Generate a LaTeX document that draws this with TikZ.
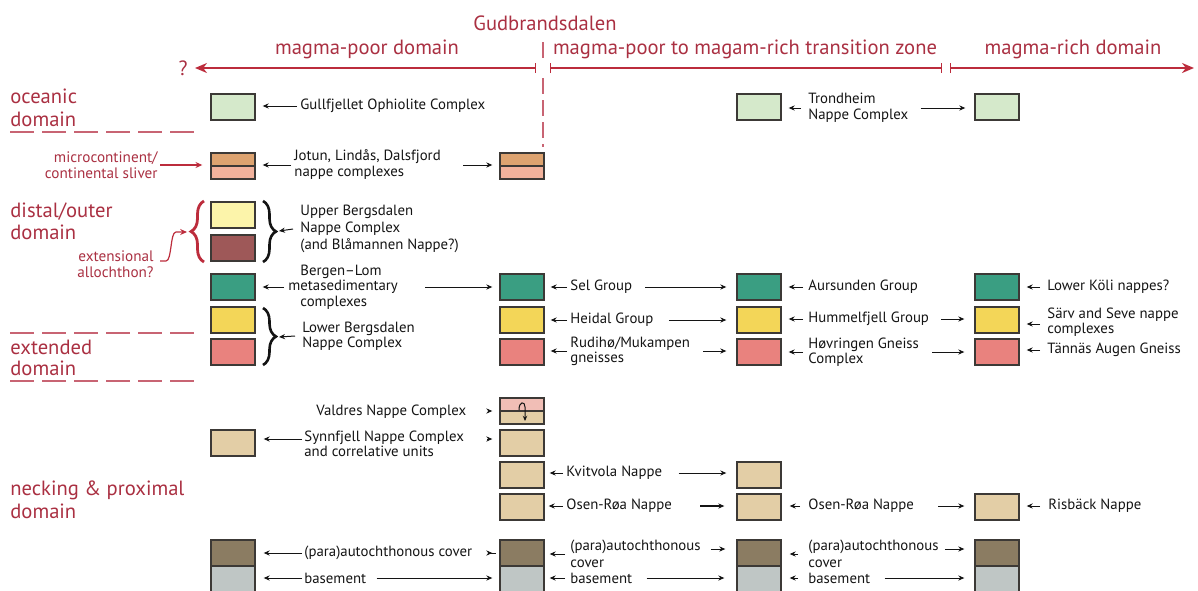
\documentclass[tikz,border=0pt]{standalone}
\usepackage{fontspec}
\setmainfont{PT Sans}
\usetikzlibrary{arrows.meta,decorations.pathreplacing}

\definecolor{boxline}{RGB}{60,57,54}
\definecolor{cOcean}{RGB}{213,233,203}
\definecolor{cJotA}{RGB}{221,163,112}
\definecolor{cJotB}{RGB}{242,178,156}
\definecolor{cPaleY}{RGB}{252,244,170}
\definecolor{cMaroon}{RGB}{158,88,88}
\definecolor{cTeal}{RGB}{58,158,130}
\definecolor{cYel}{RGB}{243,214,88}
\definecolor{cPink}{RGB}{233,130,126}
\definecolor{cTan}{RGB}{227,206,166}
\definecolor{cValA}{RGB}{241,190,182}
\definecolor{cBrown}{RGB}{139,124,98}
\definecolor{cGray}{RGB}{191,198,197}
\definecolor{txtRed}{RGB}{170,48,66}
\definecolor{lnRed}{RGB}{188,44,60}
\definecolor{dashRed}{RGB}{200,100,115}
\definecolor{ink}{RGB}{20,20,20}

\newcommand\lblsize{\fontsize{7.4}{8}\selectfont}
\newcommand\domsize{\fontsize{10.3}{11.5}\selectfont}
\newcommand\notesize{\fontsize{7.6}{8.2}\selectfont}

\begin{document}
\begin{tikzpicture}[x=0.5pt,y=-0.5pt,
  box/.style={draw=boxline,line width=0.7pt,minimum width=22pt,minimum height=13pt,inner sep=0pt},
  half/.style={draw=boxline,line width=0.7pt,minimum width=22pt,minimum height=6.5pt,inner sep=0pt},
  lbl/.style={anchor=west,inner sep=0pt,align=left,text=ink,font=\lblsize},
  dom/.style={anchor=base west,inner sep=0pt,text=txtRed,font=\domsize},
  note/.style={anchor=east,inner sep=0pt,align=right,text=txtRed,font=\notesize},
  head/.style={inner sep=0pt,text=txtRed,font=\domsize},
  arr/.style={draw=ink,line width=0.5pt,-{Stealth[length=3pt,width=2.6pt]}},
  redarr/.style={draw=lnRed,line width=0.6pt,-{Stealth[length=3.4pt,width=3pt]}},
  hdr/.style={draw=lnRed,line width=1.2pt},
  domline/.style={draw=dashRed,line width=0.6pt,dash pattern=on 12pt off 4pt},
  gline/.style={draw=dashRed,line width=0.7pt},
  bbrace/.style={draw=ink,line width=1.3pt,decorate,decoration={brace,amplitude=6.5pt}},
  rbrace/.style={draw=lnRed,line width=1.4pt,decorate,decoration={brace,amplitude=6.5pt}}
]
\useasboundingbox (0,0) rectangle (1198,590);

% ---------- header ----------
\node[head] (hGud) at (545,23) {Gudbrandsdalen};
\node[head] (hPoor) at (367,49) {magma-poor domain};
\node[head] (hTrans) at (745,49) {magma-poor to magam-rich transition zone};
\node[head] (hRich) at (1073,49) {magma-rich domain};
\node[head] (hQ) at (183,68) {?};
\coordinate (hL) at (195,68);
\coordinate (hT1) at (536,68);
\coordinate (hT2) at (550,68);
\coordinate (hT3) at (942,68);
\coordinate (hT4) at (950,68);
\coordinate (hR) at (1194,68);
\draw[hdr,{Bar[width=5pt,line width=0.6pt]}-{Stealth[length=6pt,width=5pt]}] (hT1) -- (hL);
\draw[hdr,{Bar[width=5pt,line width=0.6pt]}-{Bar[width=5pt,line width=0.6pt]}] (hT2) -- (hT3);
\draw[hdr,{Bar[width=5pt,line width=0.6pt]}-{Stealth[length=6pt,width=5pt]}] (hT4) -- (hR);
% Gudbrandsdalen boundary: short stroke above the axis, dashed below it
\coordinate (gTop) at (543,42);
\coordinate (gUp) at (543,58);
\coordinate (gLow) at (543,78);
\coordinate (gBot) at (543,147);
\draw[gline] (gTop) -- (gUp);
\draw[gline,dash pattern=on 8pt off 3pt] (gLow) -- (gBot);

% ---------- domain labels ----------
\node[dom] (dOce1) at (10,103) {oceanic};
\node[dom] (dOce2) at (10,126) {domain};
\draw[domline] (10,132) -- (196,132);
\node[dom] (dDis1) at (10,217) {distal/outer};
\node[dom] (dDis2) at (10,239) {domain};
\draw[domline] (10,333) -- (196,333);
\node[dom,anchor=west,align=left,font=\fontsize{10.3}{10.5}\selectfont] (dExt) at (10,358) {extended\\domain};
\draw[domline] (10,381) -- (196,381);
\node[dom] (dNeck1) at (10,495) {necking \& proximal};
\node[dom] (dNeck2) at (10,518) {domain};

\node[note] (nMicro) at (158,165) {microcontinent/\\continental sliver};
\node[note] (nExt) at (154,264) {extensional\\allochthon?};

% ---------- column 1 ----------
\node[box,fill=cOcean] (g1) at (233,107) {};
\node[half,fill=cJotA] (j1t) at (233,159.5) {};
\node[half,fill=cJotB] (j1b) at (233,172.5) {};
\node[box,fill=cPaleY] (ub1) at (233,215) {};
\node[box,fill=cMaroon] (ub2) at (233,248) {};
\node[box,fill=cTeal] (gr1) at (233,287) {};
\node[box,fill=cYel] (ye1) at (233,320) {};
\node[box,fill=cPink] (pk1) at (233,352) {};
\node[box,fill=cTan] (sy1) at (233,443) {};
\node[box,fill=cBrown] (cv1) at (233,553) {};
\node[box,fill=cGray] (bs1) at (233,579) {};

% ---------- column 2 ----------
\node[half,fill=cJotA] (j2t) at (522,159.5) {};
\node[half,fill=cJotB] (j2b) at (522,172.5) {};
\node[box,fill=cTeal] (gr2) at (522,287) {};
\node[box,fill=cYel] (ye2) at (522,320) {};
\node[box,fill=cPink] (pk2) at (522,352) {};
\node[half,fill=cValA] (va2t) at (522,404.5) {};
\node[half,fill=cTan] (va2b) at (522,417.5) {};
\node[box,fill=cTan] (sy2) at (522,443) {};
\node[box,fill=cTan] (kv2) at (522,475) {};
\node[box,fill=cTan] (os2) at (522,507) {};
\node[box,fill=cBrown] (cv2) at (522,553) {};
\node[box,fill=cGray] (bs2) at (522,579) {};

% ---------- column 3 ----------
\node[box,fill=cOcean] (g3) at (759,107) {};
\node[box,fill=cTeal] (gr3) at (759,287) {};
\node[box,fill=cYel] (ye3) at (759,320) {};
\node[box,fill=cPink] (pk3) at (759,352) {};
\node[box,fill=cTan] (kv3) at (759,475) {};
\node[box,fill=cTan] (os3) at (759,507) {};
\node[box,fill=cBrown] (cv3) at (759,553) {};
\node[box,fill=cGray] (bs3) at (759,579) {};

% ---------- column 4 ----------
\node[box,fill=cOcean] (g4) at (997,107) {};
\node[box,fill=cTeal] (gr4) at (997,287) {};
\node[box,fill=cYel] (ye4) at (997,320) {};
\node[box,fill=cPink] (pk4) at (997,352) {};
\node[box,fill=cTan] (os4) at (997,507) {};
\node[box,fill=cBrown] (cv4) at (997,553) {};
\node[box,fill=cGray] (bs4) at (997,579) {};

% fold symbol in the Valdres box
\draw[draw=ink,line width=0.5pt,-{Stealth[length=2.6pt,width=2.2pt]}]
  (519,410) .. controls (519,401) and (525,401) .. (525,407) -- (525,421);

% braces
\draw[rbrace] (204,262) -- (204,201);
\draw[bbrace] (263,201) -- (263,262);
\draw[bbrace] (263,308) -- (263,365);
\coordinate (ubTip) at (279,231);
\coordinate (lbTip) at (279,337);
\coordinate (rbTip) at (187,232);

% ---------- labels ----------
\node[lbl] (lGull) at (300,106) {Gullfjellet Ophiolite Complex};
\node[lbl] (lTrond) at (808,108) {Trondheim\\Nappe Complex};
\node[lbl] (lJot) at (294,165) {Jotun, Lindås, Dalsfjord\\nappe complexes};
\node[lbl,font=\fontsize{7.4}{8.5}\selectfont] (lUB) at (300,229) {Upper Bergsdalen\\Nappe Complex\\(and Blåmannen Nappe?)};
\node[lbl,font=\fontsize{7.4}{7.8}\selectfont] (lBL) at (300,287) {Bergen–Lom\\\hspace*{-6pt}metasedimentary\\complexes};
\node[lbl,font=\fontsize{7.4}{7.6}\selectfont] (lLB) at (302,336) {Lower Bergsdalen\\Nappe Complex};
\node[lbl] (lSel) at (570,287) {Sel Group};
\node[lbl] (lHei) at (570,320) {Heidal Group};
\node[lbl,font=\fontsize{7.4}{7.6}\selectfont] (lRud) at (570,351) {Rudihø/Mukampen\\gneisses};
\node[lbl] (lAur) at (808,287) {Aursunden Group};
\node[lbl] (lHum) at (808,319) {Hummelfjell Group};
\node[lbl,font=\fontsize{7.4}{7.6}\selectfont] (lHov) at (808,352) {Høvringen Gneiss\\Complex};
\node[lbl] (lKoli) at (1047,287) {Lower Köli nappes?};
\node[lbl,font=\fontsize{7.4}{7.6}\selectfont] (lSarv) at (1047,322) {Särv and Seve nappe\\complexes};
\node[lbl] (lTan) at (1047,350) {Tännäs Augen Gneiss};
\node[lbl] (lVal) at (316,412) {Valdres Nappe Complex};
\node[lbl,font=\fontsize{7.4}{6.8}\selectfont] (lSyn) at (304,444) {Synnfjell Nappe Complex\\and correlative units};
\node[lbl] (lKvi) at (566,473) {Kvitvola Nappe};
\node[lbl] (lOs2) at (566,506) {Osen-Røa Nappe};
\node[lbl] (lOs3) at (808,506) {Osen-Røa Nappe};
\node[lbl] (lRis) at (1048,506) {Risbäck Nappe};
\node[lbl] (lCv1) at (304,553) {(para)autochthonous cover};
\node[lbl,font=\fontsize{7.4}{8.5}\selectfont] (lCv2) at (570,554) {(para)autochthonous\\cover};
\node[lbl,font=\fontsize{7.4}{8.5}\selectfont] (lCv3) at (808,554) {(para)autochthonous\\cover};
\node[lbl] (lBs1) at (304,578) {basement};
\node[lbl] (lBs2) at (570,578) {basement};
\node[lbl] (lBs3) at (808,578) {basement};

% ---------- red pointers ----------
\draw[redarr,shorten >=4pt] ([xshift=1pt]nMicro.east) -- (nMicro.east -| j1t.south west);
\coordinate (extTail) at (160,261);
\draw[redarr] (extTail) -- ++(6,0) .. controls +(6,0) and +(-6,0) .. ++(10,-29) -- (rbTip);

% ---------- arrows: row 1 ----------
\draw[arr,shorten >=3.5pt] ([xshift=-1.5pt]lGull.west) -- (lGull.west -| g1.east);
\draw[arr,shorten >=3.5pt] ([xshift=-3.5pt]lTrond.west) -- (lTrond.west -| g3.east);
\draw[arr,shorten >=4.5pt] ([xshift=6pt]lTrond.east) -- (lTrond.east -| g4.west);

% row 2
\draw[arr,shorten >=3.5pt] ([xshift=-1.5pt]lJot.west) -- (lJot.west -| j1t.south east);
\draw[arr,shorten >=3.5pt] ([xshift=11pt]lJot.east) -- (lJot.east -| j2t.south west);

% brace pointers
\draw[arr] ([xshift=-3.5pt]lUB.west) -- (ubTip);
\draw[arr] ([xshift=-3.5pt]lLB.west) -- (lbTip);

% row 4
\draw[arr,shorten >=3.5pt] ([xshift=-8pt]lBL.west) -- (lBL.west -| gr1.east);
\draw[arr,shorten >=3.5pt] ([xshift=13.5pt]lBL.east) -- (lBL.east -| gr2.west);
\draw[arr,shorten >=3pt] ([xshift=-1.5pt]lSel.west) -- (lSel.west -| gr2.east);
\draw[arr,shorten >=5pt] ([xshift=6.5pt]lSel.east) -- (lSel.east -| gr3.west);
\draw[arr,shorten >=3.5pt] ([xshift=-2.5pt]lAur.west) -- (lAur.west -| gr3.east);
\draw[arr,shorten >=3.5pt] ([xshift=-3.5pt]lKoli.west) -- (lKoli.west -| gr4.east);

% row 5
\draw[arr,shorten >=3pt] ([xshift=-1.5pt]lHei.west) -- (lHei.west -| ye2.east);
\draw[arr,shorten >=5pt] ([xshift=7.5pt]lHei.east) -- (lHei.east -| ye3.west);
\draw[arr,shorten >=3.5pt] ([xshift=-2.5pt]lHum.west) -- (lHum.west -| ye3.east);
\draw[arr,shorten >=5pt] ([xshift=6pt]lHum.east) -- (lHum.east -| ye4.west);
\coordinate (sarvA) at ([yshift=-1pt]lSarv.west);
\draw[arr,shorten >=3.5pt] ([xshift=-3.5pt]sarvA) -- (sarvA -| ye4.east);

% row 6
\draw[arr,shorten >=3pt] ([xshift=-1.5pt]lRud.west) -- (lRud.west -| pk2.east);
\draw[arr,shorten >=5pt] ([xshift=6.5pt]lRud.east) -- (lRud.east -| pk3.west);
\draw[arr,shorten >=3.5pt] ([xshift=-2.5pt]lHov.west) -- (lHov.west -| pk3.east);
\draw[arr,shorten >=5pt] ([xshift=6.5pt]lHov.east) -- (lHov.east -| pk4.west);
\draw[arr,shorten >=3.5pt] ([xshift=-3.5pt]lTan.west) -- (lTan.west -| pk4.east);

% Valdres and Synnfjell
\coordinate (valA) at ([yshift=0.5pt]lVal.east);
\draw[arr,shorten >=3.5pt] ([xshift=11.5pt]valA) -- (valA -| va2t.south west);
\coordinate (synA) at ([yshift=2.5pt]lSyn.west);
\coordinate (synB) at ([yshift=2.5pt]lSyn.east);
\draw[arr,shorten >=4pt] ([xshift=-1pt]synA) -- (synA -| sy1.east);
\draw[arr,shorten >=3.5pt] ([xshift=11.5pt]synB) -- (synB -| sy2.west);

% Kvitvola and Osen-Røa
\draw[arr,shorten >=2.5pt] ([xshift=-1.5pt]lKvi.west) -- (lKvi.west -| kv2.east);
\draw[arr,shorten >=5pt] ([xshift=8pt]lKvi.east) -- (lKvi.east -| kv3.west);
\draw[arr,shorten >=2pt] ([xshift=-1.5pt]lOs2.west) -- (lOs2.west -| os2.east);
\draw[arr,line width=0.8pt,shorten >=6pt] ([xshift=14pt]lOs2.east) -- (lOs2.east -| os3.west);
\draw[arr,shorten >=4pt] ([xshift=-4pt]lOs3.west) -- (lOs3.west -| os3.east);
\draw[arr,shorten >=5pt] ([xshift=12pt]lOs3.east) -- (lOs3.east -| os4.west);
\draw[arr,shorten >=3.5pt] ([xshift=-4pt]lRis.west) -- (lRis.west -| os4.east);

% cover
\draw[arr,shorten >=4pt] ([xshift=-1pt]lCv1.west) -- (lCv1.west -| cv1.east);
\draw[arr,shorten >=3.5pt] ([xshift=11.5pt]lCv1.east) -- (lCv1.east -| cv2.west);
\draw[arr,shorten >=2.5pt] ([xshift=-2.5pt]lCv2.west) -- (lCv2.west -| cv2.east);
\coordinate (cv2A) at ([yshift=2.5pt]lCv2.east);
\draw[arr,shorten >=5.5pt] ([xshift=5pt]cv2A) -- (cv2A -| cv3.west);
\draw[arr,shorten >=4pt] ([xshift=-5pt]lCv3.west) -- (lCv3.west -| cv3.east);
\coordinate (cv3A) at ([yshift=2.5pt]lCv3.east);
\draw[arr,shorten >=5pt] ([xshift=3pt]cv3A) -- (cv3A -| cv4.west);

% basement
\draw[arr,shorten >=4pt] ([xshift=-1pt]lBs1.west) -- (lBs1.west -| bs1.east);
\draw[arr,shorten >=3.5pt] ([xshift=5pt]lBs1.east) -- (lBs1.east -| bs2.west);
\draw[arr,shorten >=2.5pt] ([xshift=-2.5pt]lBs2.west) -- (lBs2.west -| bs2.east);
\draw[arr,shorten >=6pt] ([xshift=7pt]lBs2.east) -- (lBs2.east -| bs3.west);
\draw[arr,shorten >=4pt] ([xshift=-5pt]lBs3.west) -- (lBs3.west -| bs3.east);
\draw[arr,shorten >=5pt] ([xshift=7pt]lBs3.east) -- (lBs3.east -| bs4.west);
\end{tikzpicture}
\end{document}
